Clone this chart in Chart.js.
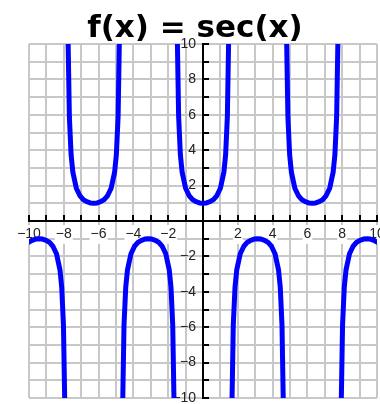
<!DOCTYPE html>
<html lang="en">
<head>
<meta charset="UTF-8">
<title>f(x) = sec(x)</title>
<style>
  body { margin: 0; background: #fff; }
  #wrap { width: 380px; height: 404px; }
</style>
</head>
<body>
<div id="wrap"><canvas id="secChart" width="380" height="404"></canvas></div>
<script src="https://cdn.jsdelivr.net/npm/chart.js"></script>
<script>
  // sec(x) branches, separated by null where the curve jumps at an asymptote
  const xValues = [
    -10, -9.82, -9.62, -9.42, -9.22, -9.02, -8.82, -8.62, -8.42, -8.22, -8.12, -8.02, -7.95, null,
    -7.75, -7.68, -7.58, -7.48, -7.28, -7.08, -6.88, -6.68, -6.48, -6.28, -6.08, -5.88, -5.68, -5.48, -5.28, -5.08, -4.98, -4.88, -4.81, null,
    -4.61, -4.54, -4.44, -4.34, -4.14, -3.94, -3.74, -3.54, -3.34, -3.14, -2.94, -2.74, -2.54, -2.34, -2.14, -1.94, -1.84, -1.74, -1.67, null,
    -1.47, -1.4, -1.3, -1.2, -1, -0.8, -0.6, -0.4, -0.2, 0, 0.2, 0.4, 0.6, 0.8, 1, 1.2, 1.3, 1.4, 1.47, null,
    1.67, 1.74, 1.84, 1.94, 2.14, 2.34, 2.54, 2.74, 2.94, 3.14, 3.34, 3.54, 3.74, 3.94, 4.14, 4.34, 4.44, 4.54, 4.61, null,
    4.81, 4.88, 4.98, 5.08, 5.28, 5.48, 5.68, 5.88, 6.08, 6.28, 6.48, 6.68, 6.88, 7.08, 7.28, 7.48, 7.58, 7.68, 7.75, null,
    7.95, 8.02, 8.12, 8.22, 8.42, 8.62, 8.82, 9.02, 9.22, 9.42, 9.62, 9.82, 10
  ];
  const secValues = [
    -1.19, -1.09, -1.02, -1, -1.02, -1.09, -1.21, -1.44, -1.85, -2.76, -3.74, -5.88, -10, null,
    10, 5.88, 3.74, 2.76, 1.85, 1.44, 1.21, 1.09, 1.02, 1, 1.02, 1.09, 1.21, 1.44, 1.85, 2.76, 3.74, 5.88, 10, null,
    -10, -5.88, -3.74, -2.76, -1.85, -1.44, -1.21, -1.09, -1.02, -1, -1.02, -1.09, -1.21, -1.44, -1.85, -2.76, -3.74, -5.88, -10, null,
    10, 5.88, 3.74, 2.76, 1.85, 1.44, 1.21, 1.09, 1.02, 1, 1.02, 1.09, 1.21, 1.44, 1.85, 2.76, 3.74, 5.88, 10, null,
    -10, -5.88, -3.74, -2.76, -1.85, -1.44, -1.21, -1.09, -1.02, -1, -1.02, -1.09, -1.21, -1.44, -1.85, -2.76, -3.74, -5.88, -10, null,
    10, 5.88, 3.74, 2.76, 1.85, 1.44, 1.21, 1.09, 1.02, 1, 1.02, 1.09, 1.21, 1.44, 1.85, 2.76, 3.74, 5.88, 10, null,
    -10, -5.88, -3.74, -2.76, -1.85, -1.44, -1.21, -1.09, -1.02, -1, -1.02, -1.09, -1.19
  ];
  const axisMin = -10;
  const axisMax = 10;
  const titleText = 'f(x) = sec(x)';

  const points = xValues.map((x, i) => ({ x: x === null ? NaN : x, y: secValues[i] }));

  // only even numbers get a label, the origin stays blank; real minus sign
  const evenLabel = v => (v % 2 === 0 && v !== 0) ? String(v).replace('-', '\u2212') : '';
  // y labels sit right-aligned on the axis, so push them off it with an en space
  const evenLabelY = v => { const s = evenLabel(v); return s ? s + '\u2002' : ''; };
  const labelFont = { family: 'Liberation Sans', size: 14 };
  const noPadding = s => { s.paddingLeft = 0; s.paddingRight = 0; s.paddingTop = 0; s.paddingBottom = 0; };

  // small tick marks: above the x axis and right of the y axis
  const axisTicks = {
    id: 'axisTicks',
    beforeDatasetsDraw(chart) {
      const { ctx, scales: { x, y } } = chart;
      const x0 = x.getPixelForValue(0);
      const y0 = y.getPixelForValue(0);
      ctx.save();
      ctx.strokeStyle = '#000';
      ctx.lineWidth = 2;
      ctx.beginPath();
      x.ticks.forEach(t => {
        const px = Math.round(x.getPixelForValue(t.value));
        ctx.moveTo(px, y0);
        ctx.lineTo(px, y0 - 6);
      });
      y.ticks.forEach(t => {
        const py = Math.round(y.getPixelForValue(t.value));
        ctx.moveTo(x0, py);
        ctx.lineTo(x0 + 6, py);
      });
      ctx.stroke();
      ctx.restore();
    }
  };

  const bigTitle = {
    id: 'bigTitle',
    afterDraw(chart) {
      const ctx = chart.ctx;
      ctx.save();
      ctx.font = 'bold 31px "DejaVu Sans"';
      ctx.fillStyle = '#000';
      ctx.textAlign = 'center';
      ctx.textBaseline = 'alphabetic';
      ctx.fillText(titleText, 195, 37);
      ctx.restore();
    }
  };

  const tickStyle = {
    stepSize: 1, autoSkip: false, maxRotation: 0, padding: 5,
    font: labelFont, color: '#222',
    showLabelBackdrop: true, backdropPadding: 1,
    backdropColor: c => c.tick && c.tick.label ? '#fff' : 'rgba(0,0,0,0)'
  };

  new Chart(document.getElementById('secChart'), {
    type: 'line',
    data: {
      datasets: [{
        data: points,
        borderColor: '#0000ff',
        borderWidth: 5,
        borderCapStyle: 'round',
        borderJoinStyle: 'round',
        pointRadius: 0,
        tension: 0,
        spanGaps: false
      }]
    },
    options: {
      responsive: false,
      animation: false,
      layout: { padding: { top: 44, left: 29, right: 3, bottom: 6 } },
      plugins: { legend: { display: false }, tooltip: { enabled: false }, title: { display: false } },
      scales: {
        x: {
          type: 'linear',
          min: axisMin,
          max: axisMax,
          position: { y: 0 },
          afterFit: noPadding,
          ticks: { ...tickStyle, callback: evenLabel },
          grid: { color: '#c8c8c8', lineWidth: 2, drawTicks: false },
          border: { color: '#000', width: 2 }
        },
        y: {
          type: 'linear',
          min: axisMin,
          max: axisMax,
          position: { x: 0 },
          afterFit: noPadding,
          ticks: { ...tickStyle, showLabelBackdrop: false, callback: evenLabelY },
          grid: { color: '#c8c8c8', lineWidth: 2, drawTicks: false },
          border: { color: '#000', width: 2 }
        }
      }
    },
    plugins: [axisTicks, bigTitle]
  });
</script>
</body>
</html>
